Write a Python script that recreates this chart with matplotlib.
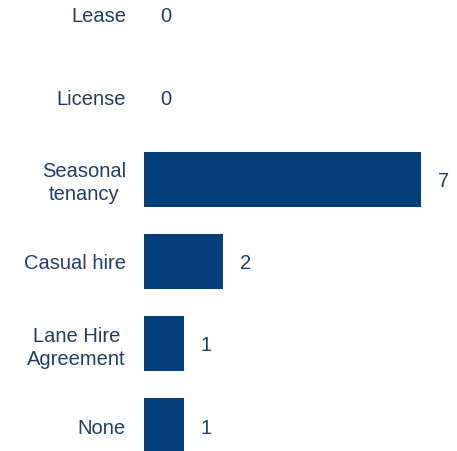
import matplotlib
matplotlib.use('Agg')
import matplotlib.pyplot as plt

# Dados do gráfico
categorias = ['Lease', 'License', 'Seasonal\ntenancy', 'Casual hire',
              'Lane Hire\nAgreement', 'None']
valores = [0, 0, 7, 2, 1, 1]

cor_barra = '#043f7c'
cor_texto = '#1f3f6a'

plt.rcParams['font.family'] = ['Liberation Sans', 'DejaVu Sans']

fig = plt.figure(figsize=(4.57, 4.51), dpi=100)
ax = fig.add_axes([144 / 457, 0, 313 / 457, 1])

y = list(range(len(categorias)))
barras = ax.barh(y, valores, height=0.67, color=cor_barra)
rotulos = ax.bar_label(barras, labels=[str(v) for v in valores], padding=12,
                       fontsize=14.5, color=cor_texto)
for r in rotulos:
    r.set_va('center_baseline')

ax.set_yticks(y)
ax.set_yticklabels(categorias, fontsize=14.5, color=cor_texto,
                   linespacing=1.25, multialignment='center')
ax.tick_params(axis='y', length=0, pad=13)
ax.set_xticks([])
ax.set_xlim(0, 313 / 39.57)
ax.set_ylim(5.304, -0.182)
for s in ax.spines.values():
    s.set_visible(False)

fig.savefig('out.png', dpi=100)
